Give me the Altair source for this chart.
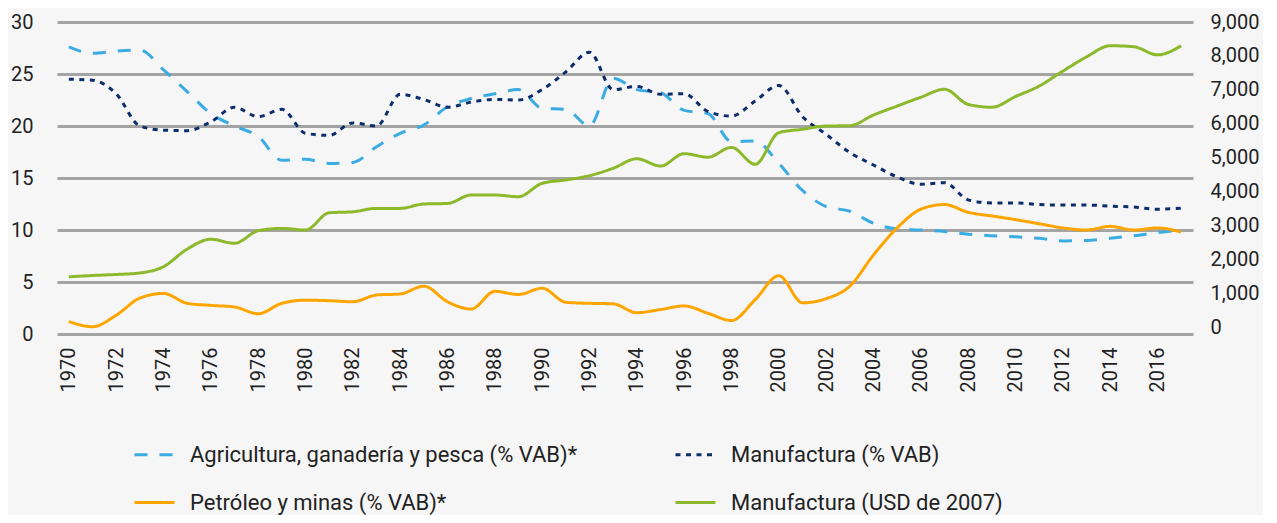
import altair as alt
import pandas as pd

years = list(range(1970, 2018))

# legend fills column by column, so this order gives the reference's rows
names = [
    "Agricultura, ganadería y pesca (% VAB)*",
    "Petróleo y minas (% VAB)*",
    "Manufactura (% VAB)",
    "Manufactura (USD de 2007)",
]

agri = [27.6, 27.0, 27.2, 27.3, 25.4, 23.3, 21.2, 20.0, 19.0, 16.7,
        16.8, 16.4, 16.5, 18.0, 19.3, 20.1, 21.85, 22.65, 23.1, 23.5,
        21.7, 21.6, 20.0, 24.6, 23.5, 23.2, 21.5, 21.2, 18.5, 18.55,
        16.4, 13.8, 12.25, 11.8, 10.65, 10.1, 10.0, 9.85, 9.6, 9.45,
        9.35, 9.2, 8.95, 9.0, 9.2, 9.45, 9.75, 10.0]

petro = [1.2, 0.7, 1.8, 3.45, 3.9, 2.95, 2.75, 2.6, 1.95, 2.95,
         3.25, 3.2, 3.1, 3.75, 3.85, 4.6, 3.1, 2.4, 4.1, 3.8,
         4.4, 3.05, 2.95, 2.9, 2.05, 2.35, 2.7, 2.0, 1.3, 3.3,
         5.6, 3.0, 3.4, 4.6, 7.6, 10.2, 12.0, 12.45, 11.7, 11.35,
         11.0, 10.6, 10.2, 10.0, 10.35, 10.0, 10.2, 9.8]

manuf = [24.5, 24.4, 23.1, 20.0, 19.6, 19.55, 20.4, 21.8, 20.9, 21.6,
         19.3, 19.1, 20.3, 20.0, 23.05, 22.55, 21.8, 22.3, 22.55, 22.5,
         23.5, 25.2, 27.1, 23.5, 23.8, 23.05, 23.1, 21.4, 20.95, 22.4,
         23.9, 20.9, 19.2, 17.45, 16.25, 15.1, 14.4, 14.55, 12.9, 12.6,
         12.6, 12.45, 12.4, 12.4, 12.3, 12.2, 12.0, 12.1]

usd = [1480, 1520, 1550, 1595, 1780, 2300, 2590, 2470, 2840, 2910,
       2860, 3370, 3400, 3500, 3500, 3630, 3645, 3895, 3895, 3845,
       4240, 4340, 4465, 4685, 4965, 4750, 5115, 5010, 5300, 4800,
       5735, 5835, 5930, 5940, 6255, 6520, 6780, 7015, 6570, 6485,
       6800, 7110, 7550, 7970, 8300, 8270, 8030, 8300]

left_ticks = [0, 5, 10, 15, 20, 25, 30]
right_ticks = [0, 1000, 2000, 3000, 4000, 5000, 6000, 7000, 8000, 9000]
year_ticks = list(range(1970, 2017, 2))

colors = ["#3aace3", "#ffa500", "#0c2c6c", "#8cb82b"]
dashes = [[13, 12], [1, 0], [5, 5.5], [1, 0]]

rows = []
for s, vals in zip(names, [agri, petro, manuf, usd]):
    for y, v in zip(years, vals):
        rows.append({"year": y, "serie": s, "valor": v})
df = pd.DataFrame(rows)

left_names = names[:3]
right_name = names[3]

FONT = "Roboto"
TXT = "#222222"

leg = alt.Legend(
    title=None, orient="none", legendX=76, legendY=411, columns=2,
    symbolType="stroke", symbolSize=1600, symbolStrokeWidth=3,
    labelFont=FONT, labelFontSize=22, labelColor=TXT, labelOffset=14,
    columnPadding=91, rowPadding=15, padding=0, labelLimit=0,
)

color = alt.Color("serie:N", scale=alt.Scale(domain=names, range=colors), legend=leg)
dash = alt.StrokeDash("serie:N", scale=alt.Scale(domain=names, range=dashes), legend=leg)

x = alt.X(
    "year:Q",
    scale=alt.Scale(domain=[1969.5, 2017.5], nice=False, zero=False),
    axis=alt.Axis(values=year_ticks, format="d", labelAngle=270, title=None,
                  grid=False, ticks=False, tickSize=0, domain=False, labelPadding=13,
                  labelFontSize=20, labelFont=FONT, labelColor=TXT),
)

base = alt.Chart(df)

left = base.transform_filter(
    alt.FieldOneOfPredicate(field="serie", oneOf=left_names)
).mark_line(strokeWidth=3, interpolate="monotone", strokeCap="butt").encode(
    x=x,
    y=alt.Y("valor:Q", scale=alt.Scale(domain=[0, 30], nice=False),
            axis=alt.Axis(values=left_ticks, title=None, grid=True, gridColor="#a4a4a4",
                          gridWidth=3, ticks=False, tickSize=0, domain=False, labelPadding=24,
                          labelFontSize=20, labelFont=FONT, labelColor=TXT)),
    color=color,
    strokeDash=dash,
)

right = base.transform_filter(
    alt.FieldEqualPredicate(field="serie", equal=right_name)
).mark_line(strokeWidth=3, interpolate="monotone", strokeCap="butt").encode(
    x=x,
    y=alt.Y("valor:Q", scale=alt.Scale(domain=[0, 9000], range=[305, 0], nice=False),
            axis=alt.Axis(orient="right", values=right_ticks, format=",.0f", title=None,
                          grid=False, ticks=False, tickSize=0, domain=False, labelPadding=17,
                          labelFontSize=20, labelFont=FONT, labelColor=TXT)),
    color=color,
    strokeDash=dash,
)

chart = alt.layer(left, right).resolve_scale(y="independent").properties(
    width=1136, height=312,
    padding={"left": 49, "top": 14, "right": 70, "bottom": 181},
    autosize=alt.AutoSizeParams(type="none"),
    background="#f6f6f6",
).configure_view(stroke=None)

chart.save("out.html", embed_options={"renderer": "svg", "actions": False})
